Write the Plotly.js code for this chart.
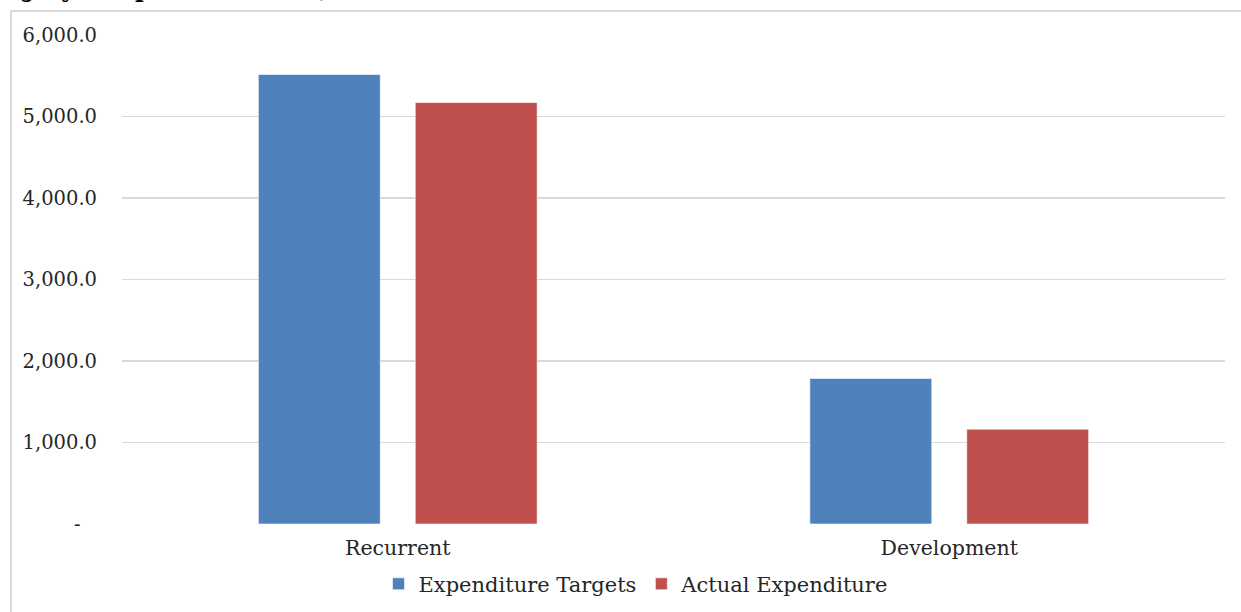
<!DOCTYPE html>
<html>
<head>
<meta charset="utf-8">
<script src="https://cdn.plot.ly/plotly-3.0.1.min.js"></script>
<style>
  html, body { margin: 0; padding: 0; background: #ffffff; }
  #chart { width: 1241px; height: 612px; }
</style>
</head>
<body>
<div id="chart"></div>
<script>
// Expenditure by type (Ksh Million)
const categories = ["Recurrent", "Development"];
const targetValues = [5515, 1786];
const actualValues = [5172, 1164];
const seriesNames = ["Expenditure Targets", "Actual Expenditure"];
const yTickVals = [0, 1000, 2000, 3000, 4000, 5000, 6000];
const yTickText = ["-\u00a0\u00a0\u2009", "1,000.0", "2,000.0", "3,000.0", "4,000.0", "5,000.0", "6,000.0"];
const headingText = "(July \u2013 September 2023)";

const FONT = "'DejaVu Serif', 'Liberation Serif', serif";
const TEXT_COLOR = "#262626";

const traces = [
  {
    type: "bar",
    name: seriesNames[0],
    x: categories,
    y: targetValues,
    marker: { color: "#4F81BD", line: { color: "rgba(255,255,255,0.6)", width: 1 } },
    hoverinfo: "x+y+name"
  },
  {
    type: "bar",
    name: seriesNames[1],
    x: categories,
    y: actualValues,
    marker: { color: "#C0504D", line: { color: "rgba(255,255,255,0.6)", width: 1 } },
    hoverinfo: "x+y+name"
  }
];

const layout = {
  width: 1241,
  height: 612,
  margin: { l: 122, r: 16, t: 35, b: 88, autoexpand: false },
  paper_bgcolor: "#ffffff",
  plot_bgcolor: "#ffffff",
  barmode: "group",
  bargap: 0.431,
  bargroupgap: 0.223,
  font: { family: FONT, size: 20, color: TEXT_COLOR },
  showlegend: true,
  legend: {
    orientation: "h",
    x: 0.466,
    xanchor: "center",
    y: -0.123,
    yanchor: "middle",
    font: { family: FONT, size: 21, color: TEXT_COLOR },
    itemwidth: 30,
    traceorder: "normal"
  },
  xaxis: {
    showgrid: false,
    showline: false,
    zeroline: false,
    ticks: "",
    ticklabelstandoff: 9,
    automargin: false,
    tickfont: { family: FONT, size: 20.5, color: TEXT_COLOR }
  },
  yaxis: {
    range: [0, 6000],
    tickvals: yTickVals,
    ticktext: yTickText,
    showgrid: true,
    gridcolor: "#d9d9d9",
    gridwidth: 1.5,
    zeroline: false,
    showline: false,
    ticks: "",
    automargin: false,
    ticklabelstandoff: 24,
    tickfont: { family: FONT, size: 19.5, color: TEXT_COLOR }
  },
  shapes: [
    {
      // outer chart frame (left and top edges visible)
      type: "rect",
      xref: "paper", yref: "paper",
      x0: -0.1006, x1: 1.2,
      y0: -0.3, y1: 1.049,
      line: { color: "#d9d9d9", width: 2 },
      fillcolor: "rgba(0,0,0,0)",
      layer: "below"
    }
  ],
  annotations: [
    {
      text: "<b>" + headingText + "</b>",
      xref: "paper", yref: "paper",
      x: -0.1006, xanchor: "left",
      y: 1.0605, yanchor: "bottom",
      showarrow: false,
      font: { family: FONT, size: 23.5, color: "#000000" }
    }
  ]
};

Plotly.newPlot("chart", traces, layout, { displayModeBar: false, staticPlot: true });
</script>
</body>
</html>
